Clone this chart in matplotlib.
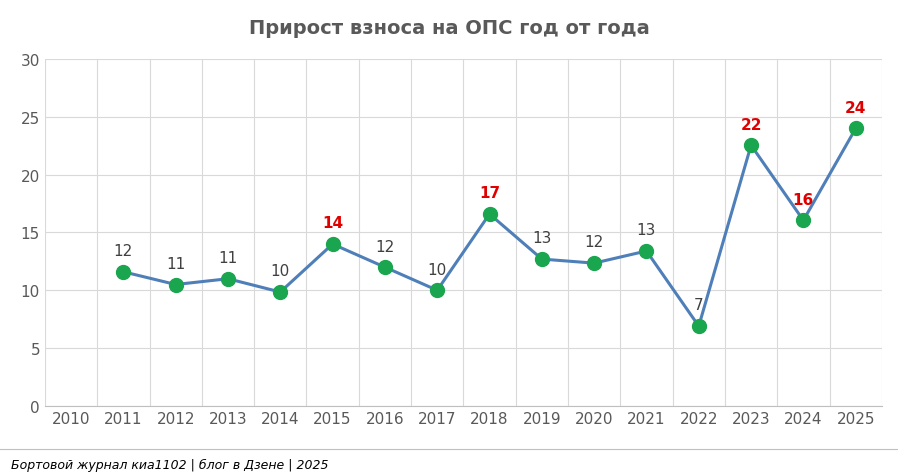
import matplotlib
matplotlib.use('Agg')
import matplotlib.pyplot as plt
import numpy as np

years = [str(y) for y in range(2010, 2026)]
values = [np.nan, 11.6, 10.5, 11.0, 9.85, 14.0, 12.0, 10.0, 16.6, 12.7, 12.35, 13.4, 6.9, 22.55, 16.05, 24.0]
labels = ['', '12', '11', '11', '10', '14', '12', '10', '17', '13', '12', '13', '7', '22', '16', '24']
highlight = ['2015', '2018', '2023', '2024', '2025']

fig = plt.figure(figsize=(8.98, 4.77), dpi=100)
ax = fig.add_axes([0.05, 0.147, 0.932, 0.727])
x = np.arange(len(years))
ax.plot(x, values, color='#4f7fb8', lw=2.2, marker='o', ms=10,
        mfc='#1aa64f', mec='#1aa64f', zorder=3)
for xi, v, lab, yr in zip(x, values, labels, years):
    if not lab:
        continue
    if yr in highlight:
        ax.annotate(lab, (xi, v), xytext=(0, 12), textcoords='offset points',
                    ha='center', fontsize=11, color='#e00000', fontweight='bold')
    else:
        ax.annotate(lab, (xi, v), xytext=(0, 12), textcoords='offset points',
                    ha='center', fontsize=11, color='#404040')

ax.set_xlim(-0.5, len(years) - 0.5)
ax.set_ylim(0, 30)
ax.set_yticks(range(0, 31, 5))
ax.set_xticks(x)
ax.set_xticklabels(years)
ax.set_xticks(np.arange(-0.5, len(years), 1), minor=True)
ax.grid(True, which='minor', axis='x', color='#d9d9d9', lw=0.8)
ax.grid(True, which='major', axis='y', color='#d9d9d9', lw=0.8)
ax.tick_params(which='both', length=0, labelsize=11, colors='#595959')
for s in ['top', 'right', 'left']:
    ax.spines[s].set_visible(False)
ax.spines['bottom'].set_color('#bfbfbf')

fig.text(0.5, 0.94, 'Прирост взноса на ОПС год от года', ha='center', va='center',
         fontsize=14, fontweight='bold', color='#595959')
fig.add_artist(plt.Line2D([0, 1], [0.057, 0.057], color='#bfbfbf', lw=0.8))
fig.text(0.012, 0.025, 'Бортовой журнал киа1102 | блог в Дзене | 2025', ha='left', va='center',
         fontsize=9, fontstyle='italic', color='black')
fig.savefig('out.png', dpi=100)
